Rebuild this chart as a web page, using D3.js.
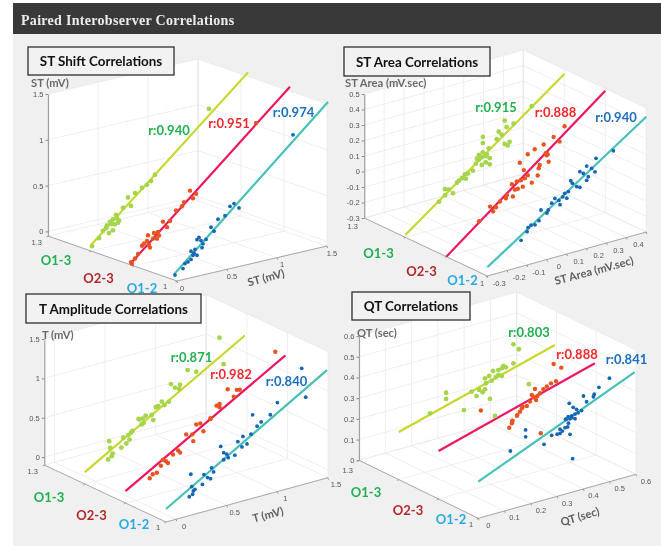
<!DOCTYPE html>
<html><head><meta charset="utf-8">
<script src="https://cdn.jsdelivr.net/npm/d3@7/dist/d3.min.js"></script>
<style>
html,body{margin:0;padding:0;background:#fff;}
svg{display:block;filter:blur(0.3px);}
</style></head><body>
<svg id="c" width="661" height="546"></svg>
<script>
const categories = ['O1-3','O2-3','O1-2'];
const categoryDepth = [1.2,1.1,1.0];
const depthTicks = [1,1.1,1.2,1.3];

// ---- ST Shift [ST observer A, ST observer B]
const stR = ['r:0.940','r:0.951','r:0.974'];
const stLine13 = [[0,0.015],[1.57,1.5]];
const stLine23 = [[-0.04,-0.02],[1.56,1.51]];
const stLine12 = [[-0.03,0.03],[1.51,1.52]];
const st13 = [[.01,0],[.08,.07],[.12,.14],[.15,.16],[.18,.10],[.22,.12],[.16,.19],[.19,.22],[.22,.24],[.25,.28],[.26,.24],[.28,.21],[.24,.18],[.21,.19],[.27,.19],[.32,.34],[.40,.34],[.37,.44],[.44,.47],[.51,.51],[.56,.53],[.60,.56],[.64,.62],[1.18,1.20]];
const st23 = [[-.02,-.02],[-.03,0],[.01,.03],[.04,.07],[.08,.15],[.10,.17],[.13,.19],[.15,.14],[.16,.11],[.14,.25],[.19,.20],[.23,.19],[.20,.26],[.25,.22],[.24,.26],[.29,.36],[.33,.29],[.36,.35],[.42,.45],[.48,.48],[.50,.52],[.56,.63],[.59,.54],[.62,.58],[1.22,1.20]];
const st12 = [[-.02,.02],[.06,.07],[.08,.12],[.11,.13],[.14,.15],[.16,.19],[.14,.24],[.18,.25],[.20,.18],[.17,.21],[.25,.25],[.26,.29],[.20,.35],[.22,.37],[.24,.33],[.29,.33],[.34,.45],[.37,.40],[.41,.52],[.48,.54],[.53,.63],[.57,.65],[.62,.59],[1.16,1.25]];

// ---- ST Area
const areaR = ['r:0.915','r:0.888','r:0.940'];
const areaLine13 = [[-.3,-.285],[.5,.47]];
const areaLine23 = [[-.3,-.3],[.5,.487]];
const areaLine12 = [[-.3,-.244],[.5,.444]];
const area13 = [[-.13,-.13],[-.10,-.06],[-.10,-.10],[-.08,-.07],[-.06,-.10],[-.04,-.04],[-.03,-.03],[-.015,-.02],[0,0],[.005,-.03],[.015,0],[.04,.01],[.055,.05],[.07,.07],[.085,.03],[.105,.04],[.125,.02],[.125,.06],[.07,.10],[.11,.09],[.09,.11],[.06,.08],[.085,.08],[.105,.08],[.09,.17],[.12,.125],[.09,.21],[.16,.17],[.17,.215],[.185,.19],[.20,.125],[.215,.11],[.225,.13],[.21,.23],[.20,.275],[.245,.24],[.336,.32]];
const area23 = [[-.135,-.13],[-.08,-.055],[-.065,-.09],[-.05,-.07],[-.03,-.04],[0,-.03],[.005,-.01],[.035,-.03],[.03,.05],[.045,.01],[.06,.01],[.055,.06],[.075,.06],[.09,.12],[.095,.065],[.11,.08],[.085,.015],[.13,.025],[.16,.06],[.07,.175],[.11,.215],[.17,.125],[.165,.105],[.215,.13],[.205,.175],[.145,.235],[.19,.25],[.20,.19],[.21,.18],[.24,.28],[.27,.24],[.295,.33]];
const area12 = [[-.13,-.13],[-.10,-.085],[-.095,-.06],[-.08,-.05],[-.06,-.055],[-.04,-.035],[-.03,.03],[0,0],[.007,.017],[.024,.055],[.04,.08],[.066,.03],[.06,.06],[.08,.076],[.09,.095],[.10,.06],[.108,.10],[.12,.166],[.128,.146],[.15,.117],[.166,.107],[.166,.208],[.183,.19],[.20,.14],[.208,.16],[.20,.232],[.225,.208],[.242,.18],[.247,.265],[.334,.283]];

// ---- T Amplitude
const tR = ['r:0.871','r:0.982','r:0.840'];
const tLine13 = [[-.1,.05],[1.48,1.23]];
const tLine23 = [[-.1,.05],[1.48,1.22]];
const tLine12 = [[-.1,.065],[1.49,1.27]];
const t13 = [[.14,.36],[.15,.27],[.13,.13],[.165,.16],[.175,.19],[.26,.235],[.28,.355],[.31,.27],[.34,.31],[.355,.39],[.37,.41],[.33,.37],[.43,.54],[.46,.46],[.48,.47],[.575,.475],[.47,.53],[.44,.53],[.50,.556],[.56,.544],[.60,.63],[.625,.635],[.66,.68],[.686,.626],[.73,.653],[.75,.87],[.79,.81],[.83,.78],[.84,.83],[.915,.99],[1.0,.94],[1.27,.94],[1.23,1.29]];
const t23 = [[.14,.13],[.17,.17],[.21,.175],[.25,.25],[.30,.29],[.27,.32],[.32,.26],[.37,.35],[.42,.385],[.44,.35],[.50,.56],[.56,.54],[.57,.45],[.60,.65],[.67,.54],[.64,.65],[.74,.67],[.74,.68],[.80,.82],[.83,.83],[.83,.79],[.91,.99],[.97,.875],[1.0,.95],[1.03,.94],[1.38,1.30]];
const t12 = [[.13,.14],[.145,.42],[.154,.26],[.17,.2],[.186,.215],[.163,.16],[.26,.25],[.275,.37],[.31,.32],[.34,.295],[.35,.43],[.37,.37],[.44,.67],[.47,.49],[.47,.58],[.50,.55],[.515,.50],[.58,.51],[.61,.67],[.65,.59],[.66,.72],[.70,.61],[.74,.72],[.80,.80],[.84,.84],[.755,.96],[.93,.90],[1.0,1.03],[1.28,1.0],[1.24,1.38]];

// ---- QT
const qtR = ['r:0.803','r:0.888','r:0.841'];
const qtLine13 = [[0,.23],[.594,.44]];
const qtLine23 = [[0,.232],[.595,.445]];
const qtLine12 = [[0,.177],[.595,.495]];
const qt13 = [[.119,.278],[.18,.356],[.18,.326],[.248,.248],[.277,.327],[.296,.299],[.306,.325],[.319,.309],[.328,.32],[.347,.267],[.366,.178],[.328,.373],[.332,.348],[.344,.379],[.353,.353],[.359,.398],[.369,.364],[.379,.371],[.392,.362],[.379,.395],[.392,.399],[.408,.398],[.398,.408],[.436,.407],[.457,.468],[.436,.499],[.495,.286]];
const qt23 = [[.161,.37],[.281,.279],[.30,.30],[.31,.312],[.32,.332],[.336,.33],[.317,.326],[.348,.347],[.355,.377],[.367,.401],[.363,.363],[.376,.364],[.386,.374],[.371,.347],[.399,.389],[.412,.397],[.428,.407],[.447,.41],[.467,.469],[.438,.497],[.269,.249],[.279,.267],[.281,.277],[.298,.296],[.389,.18]];
const qt12 = [[.334,.36],[.342,.37],[.355,.369],[.368,.373],[.38,.375],[.361,.408],[.374,.394],[.393,.381],[.346,.433],[.40,.449],[.412,.417],[.438,.432],[.441,.443],[.459,.47],[.499,.50],[.122,.282],[.18,.363],[.18,.33],[.25,.269],[.279,.302],[.30,.30],[.311,.30],[.32,.308],[.311,.32],[.33,.321],[.34,.321],[.349,.282],[.343,.338],[.332,.361],[.349,.357],[.368,.351],[.356,.36],[.359,.161]];

const lineColors = ['#c7d72c','#ee1561','#45c1b7'];
const pointColors = ['#a5d54b','#e8541f','#1766b5'];
const pointRadii = [2.4,2.2,1.9];
const catColors = ['#1fb04f','#b3272b','#27a9e1'];
const rColors = ['#1fb04f','#f2272c','#1c6fc0'];

const panels = [
 {title:'ST Shift Correlations',box:[28,47,146,28],zTitle:'ST (mV)',zTitlePos:[31,83],xTitle:'ST (mV)',xTitlePos:[267,278],xTitleAngle:-15,
  origin:[177,281],vx:[150,-35],vc:[-129,-45],zH:142,xDomain:[0,1.5],zDomain:[-.05,1.5],
  xTicks:[0,.5,1,1.5],zTicks:[0,.5,1,1.5],xLabels:['0','0.5','1','1.5'],zLabels:['0','0.5','1','1.5'],
  xLabelOff:[5,7],
  lines:[stLine13,stLine23,stLine12],pts:[st13,st23,st12],r:stR,
  rPos:[[169,130],[229,123],[293.5,112]],catPos:[[56,260],[98.5,278],[142,288]],
  c13Label:[42,242],c1Label:[165,286]},
 {title:'ST Area Correlations',box:[344,47,146,29],zTitle:'ST Area (mV.sec)',zTitlePos:[345,83],xTitle:'ST Area (mV.sec)',xTitlePos:[595,271],xTitleAngle:-15,
  origin:[487.3,276],vx:[159,-44],vc:[-123,-58],zH:124,xDomain:[-.3,.5],zDomain:[-.3,.5],
  xTicks:[-.3,-.2,-.1,0,.1,.2,.3,.4,.5],zTicks:[-.3,-.2,-.1,0,.1,.2,.3,.4,.5],xLabels:['-0.3','-0.2','-0.1','0','0.1','0.2','0.3','0.4',''],zLabels:['-0.3','-0.2','-0.1','0','0.1','0.2','0.3','0.4','0.5'],
  xLabelOff:[12,7],
  lines:[areaLine13,areaLine23,areaLine12],pts:[area13,area23,area12],r:areaR,
  rPos:[[496,107],[555.5,112],[616,117]],catPos:[[378.5,253],[421.5,271],[462.5,280]],
  c13Label:[358,226],c1Label:[482,283]},
 {title:'T Amplitude Correlations',box:[26,294,175,29],zTitle:'T (mV)',zTitlePos:[42,335],xTitle:'T (mV)',xTitlePos:[269,515],xTitleAngle:-15,
  origin:[166,522],vx:[162,-44.3],vc:[-121.7,-57],zH:126,xDomain:[-.1,1.5],zDomain:[-.1,1.5],
  xTicks:[0,.5,1,1.5],zTicks:[0,.5,1,1.5],xLabels:['0','0.5','1','1.5'],zLabels:['0','0.5','1','1.5'],
  xLabelOff:[8,7],
  lines:[tLine13,tLine23,tLine12],pts:[t13,t23,t12],r:tR,
  rPos:[[191.5,357],[231,374],[286.5,381]],catPos:[[49,497],[91.5,515],[134,524]],
  c13Label:[38,471],c1Label:[158,527]},
 {title:'QT Correlations',box:[352,292,118,28],zTitle:'QT (sec)',zTitlePos:[357,333],xTitle:'QT (sec)',xTitlePos:[581,517],xTitleAngle:-17,
  origin:[478.3,518.3],vx:[157.7,-44],vc:[-119.3,-58],zH:124.2,xDomain:[0,.6],zDomain:[0,.6],
  xTicks:[0,.1,.2,.3,.4,.5,.6],zTicks:[0,.1,.2,.3,.4,.5,.6],xLabels:['0','0.1','0.2','0.3','0.4','0.5','0.6'],zLabels:['0','0.1','0.2','0.3','0.4','0.5','0.6'],
  xLabelOff:[10,7],
  lines:[qtLine13,qtLine23,qtLine12],pts:[qt13,qt23,qt12],r:qtR,
  rPos:[[529,332],[577,354],[626.5,359]],catPos:[[366,492],[408,510],[451,519]],
  c13Label:[353,470],c1Label:[471,524]}
];

const svg = d3.select('#c');
const sans = '"Liberation Sans",Arial,sans-serif';
const cal = 'Lato,"Open Sans",sans-serif';

svg.append('rect').attr('x',13).attr('y',3).attr('width',648).attr('height',543).attr('fill','#f0f0f0');
svg.append('rect').attr('x',13).attr('y',3).attr('width',648).attr('height',31).attr('fill','#3a3939');
svg.append('text').attr('x',21).attr('y',24.5).attr('fill','#ececec')
  .attr('font-family','"Liberation Serif",serif').attr('font-weight','bold').attr('font-size',14)
  .attr('letter-spacing',0.3).text('Paired Interobserver Correlations');

const lineGen = d3.line();

panels.forEach(p=>{
  const g = svg.append('g');
  const [ox,oy]=p.origin;
  const xX=d3.scaleLinear().domain(p.xDomain).range([0,p.vx[0]]);
  const xY=d3.scaleLinear().domain(p.xDomain).range([0,p.vx[1]]);
  const cX=d3.scaleLinear().domain([1,1.3]).range([0,p.vc[0]]);
  const cY=d3.scaleLinear().domain([1,1.3]).range([0,p.vc[1]]);
  const zY=d3.scaleLinear().domain(p.zDomain).range([0,-p.zH]);
  const P=(x,c,z)=>[ox+xX(x)+cX(c),oy+xY(x)+cY(c)+zY(z)];
  const [x0,x1]=p.xDomain,[z0,z1]=p.zDomain,c0=1,c1=1.3;

  // white box
  g.append('path').attr('d',lineGen([P(x0,c1,z0),P(x0,c0,z0),P(x1,c0,z0),P(x1,c0,z1),P(x1,c1,z1),P(x0,c1,z1)])+'Z').attr('fill','#fff');
  const grid=(a,b)=>g.append('path').attr('d',lineGen([a,b])).attr('stroke','#e8e8e8').attr('stroke-width',.7).attr('fill','none');
  p.xTicks.forEach(t=>{grid(P(t,c0,z0),P(t,c1,z0));grid(P(t,c1,z0),P(t,c1,z1));});
  depthTicks.forEach(t=>{grid(P(x0,t,z0),P(x1,t,z0));grid(P(x1,t,z0),P(x1,t,z1));});
  p.zTicks.forEach(t=>{grid(P(x0,c1,t),P(x1,c1,t));grid(P(x1,c1,t),P(x1,c0,t));});
  grid(P(x1,c1,z0),P(x1,c1,z1));

  // axes
  const axisLine=(a,b,w)=>g.append('path').attr('d',lineGen([a,b])).attr('stroke','#a8a8a8').attr('stroke-width',w).attr('fill','none');
  axisLine(P(x0,c1,z0),P(x0,c0,z0),1);
  axisLine(P(x0,c0,z0),P(x1,c0,z0),1);

  // z axis through d3.axisLeft
  const left=P(x0,c1,z0);
  const zAbs=d3.scaleLinear().domain(p.zDomain).range([left[1],left[1]-p.zH]);
  const ax=g.append('g').attr('transform',`translate(${left[0]},0)`)
    .call(d3.axisLeft(zAbs).tickValues(p.zTicks).tickSizeInner(2.5).tickSizeOuter(0).tickPadding(2).tickFormat((d,i)=>p.zLabels[i]));
  ax.select('.domain').attr('stroke','#a0a0a0').attr('stroke-width',1.2);
  ax.selectAll('.tick line').attr('stroke','#888');
  ax.selectAll('text').attr('font-family',sans).attr('font-size',7.5).attr('fill','#555');

  // x labels + ticks
  p.xTicks.forEach((t,i)=>{
    const a=P(t,c0,z0);
    g.append('path').attr('d',lineGen([a,[a[0]+0.6,a[1]+2]])).attr('stroke','#888').attr('stroke-width',.8);
    if(p.xLabels[i]) g.append('text').attr('x',a[0]+p.xLabelOff[0]).attr('y',a[1]+p.xLabelOff[1]+2.5).attr('text-anchor','middle')
      .attr('font-family',sans).attr('font-size',7.5).attr('fill','#555').text(p.xLabels[i]);
  });
  depthTicks.forEach(t=>{
    const a=P(x0,t,z0);
    g.append('path').attr('d',lineGen([a,[a[0]-1.6,a[1]+1]])).attr('stroke','#888').attr('stroke-width',.8);
  });
  [[p.c13Label,'1.3','end'],[p.c1Label,'1','middle']].forEach(([q,s,an])=>{
    g.append('text').attr('x',q[0]).attr('y',q[1]+2.5).attr('text-anchor',an)
     .attr('font-family',sans).attr('font-size',7.5).attr('fill','#555').text(s);
  });

  // fit lines
  p.lines.forEach((L,i)=>{
    const c=categoryDepth[i];
    g.append('path').attr('d',lineGen(L.map(d=>P(d[0],c,d[1])))).attr('stroke',lineColors[i]).attr('stroke-width',2.2).attr('fill','none');
  });
  // points
  p.pts.forEach((S,i)=>{
    const c=categoryDepth[i];
    g.selectAll(null).data(S).join('circle')
      .attr('cx',d=>P(d[0],c,d[1])[0]).attr('cy',d=>P(d[0],c,d[1])[1])
      .attr('r',pointRadii[i]).attr('fill',pointColors[i]);
  });

  // axis titles
  g.append('text').attr('x',p.zTitlePos[0]).attr('y',p.zTitlePos[1]+3.5).attr('font-family',cal).attr('font-weight','bold')
    .attr('font-size',11.2).attr('fill','#6a6a6a').text(p.zTitle);
  g.append('text').attr('text-anchor','middle').attr('transform',`translate(${p.xTitlePos[0]},${p.xTitlePos[1]+3.5}) rotate(${p.xTitleAngle})`)
    .attr('font-family',cal).attr('font-weight','bold').attr('font-size',11.2).attr('fill','#5f5f5f').text(p.xTitle);

  // category labels
  categories.forEach((s,i)=>{
    g.append('text').attr('x',p.catPos[i][0]).attr('y',p.catPos[i][1]+5).attr('text-anchor','middle')
      .attr('font-family',cal).attr('font-weight','bold').attr('font-size',13).attr('fill',catColors[i]).text(s);
  });
  // r labels
  p.r.forEach((s,i)=>{
    g.append('text').attr('x',p.rPos[i][0]).attr('y',p.rPos[i][1]+4.5).attr('text-anchor','middle')
      .attr('font-family',cal).attr('font-weight','bold').attr('font-size',13).attr('fill',rColors[i]).text(s);
  });
  // title box
  const b=p.box;
  g.append('rect').attr('x',b[0]).attr('y',b[1]).attr('width',b[2]).attr('height',b[3]).attr('fill','#f2f2f2').attr('stroke','#2e2e2e').attr('stroke-width',1.3);
  g.append('text').attr('x',b[0]+b[2]/2).attr('y',b[1]+b[3]/2+5).attr('text-anchor','middle').attr('font-family',cal).attr('font-weight','bold')
    .attr('font-size',13.4).attr('fill','#111').text(p.title);
});
</script>
</body></html>
